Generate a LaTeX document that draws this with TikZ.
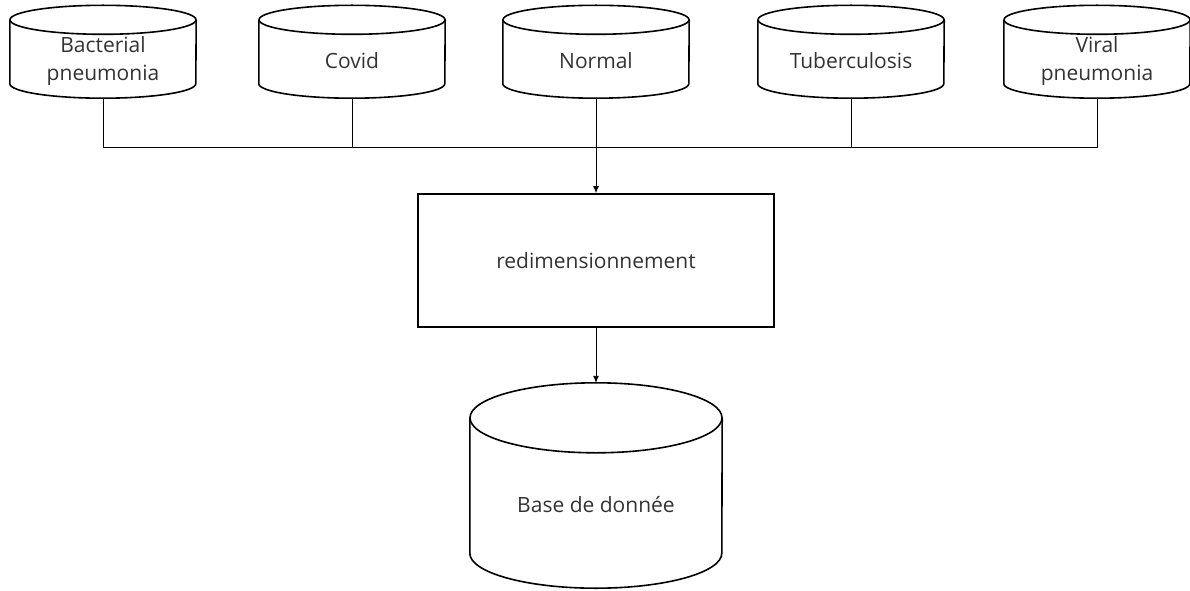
\documentclass[tikz,border=0pt]{standalone}
\usepackage{fontspec}
\setmainfont{Open Sans}
\usetikzlibrary{arrows.meta}

% outline of a drum: top ellipse centred a little above the node's north
% anchor (#4), sides down to the bottom arc that ends on the south anchor
\newcommand\drumoutline[4]{%
  \draw[shapeline] ([yshift=#4]#1.north) ellipse [x radius=#2, y radius=#3];
  \draw[shapeline] ([yshift=#4]#1.north west) -- ([yshift=#3]#1.south west)
    arc[start angle=180, end angle=360, x radius=#2, y radius=#3]
    -- ([yshift=#4]#1.north east);
}

\begin{document}
\begin{tikzpicture}[x=1pt, y=1pt,
  shapeline/.style={line width=1.6pt, line join=round},
  wire/.style={line width=0.9pt},
  arrowwire/.style={wire, -{Latex[length=7pt, width=6pt]}},
  label/.style={font=\fontsize{21}{28}\selectfont, text=black!80, align=center},
  drum/.style={label, draw=none, inner sep=0pt, minimum width=186pt, minimum height=74pt},
  bigdrum/.style={label, draw=none, inner sep=0pt, minimum width=252pt, minimum height=166pt},
  procbox/.style={label, draw, line width=1.8pt, inner sep=0pt, minimum width=356pt, minimum height=133pt}
]
\useasboundingbox (0,0) rectangle (1190,590);

% source datasets
\node[drum] (bac) at (103,529) {Bacterial\\pneumonia};
\node[drum] (cov) at (352,529) {Covid};
\node[drum] (nor) at (596,529) {Normal};
\node[drum] (tub) at (851,529) {Tuberculosis};
\node[drum] (vir) at (1097,529) {Viral\\pneumonia};
\foreach \n in {bac,cov,nor,tub,vir} {\drumoutline{\n}{93pt}{14.5pt}{4pt}}

% resizing step
\node[procbox] (resize) at (596,329.5) {redimensionnement};

% resulting database
\node[bigdrum] (db) at (596,85) {Base de donnée};
\drumoutline{db}{126pt}{35pt}{4pt}
\coordinate (dbtop) at ([yshift=39pt]db.north);

% collecting bus
\coordinate (bus) at (0,443);
\draw[wire] (bac.south) |- (vir.south |- bus) -- (vir.south);
\draw[wire] (cov.south) -- (cov.south |- bus);
\draw[wire] (tub.south) -- (tub.south |- bus);
\draw[arrowwire] (nor.south) -- (resize.north);
\draw[arrowwire] (resize.south) -- (dbtop);
\end{tikzpicture}
\end{document}
